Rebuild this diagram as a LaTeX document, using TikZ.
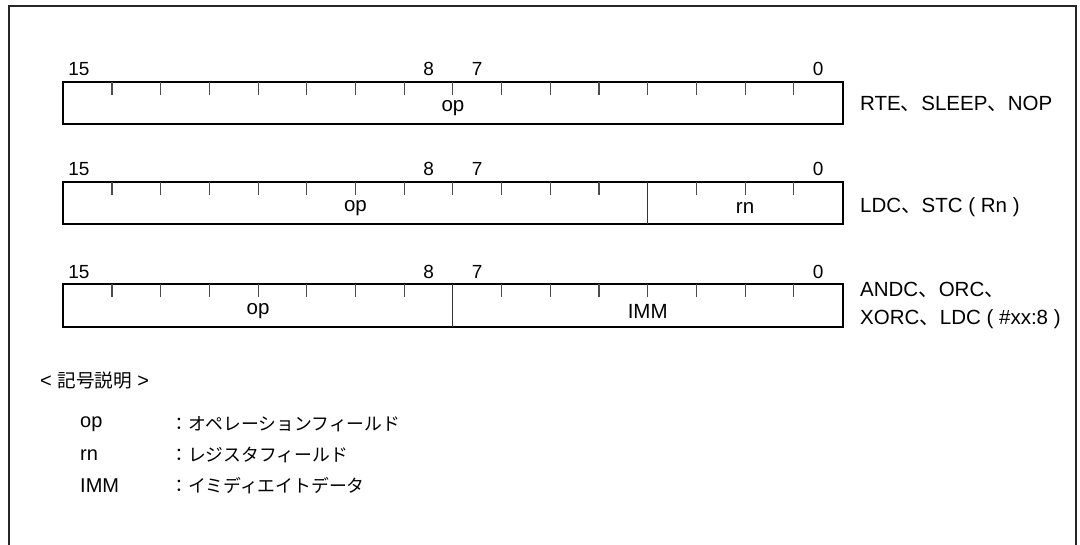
\documentclass[tikz,border=0pt]{standalone}
\usepackage{fontspec}
\setmainfont{Liberation Sans}
\newfontfamily\jp{Noto Sans CJK JP}
\begin{document}
\begin{tikzpicture}[x=1pt,y=-1pt,
  frame/.style={draw=black!85,line width=1.3pt},
  regbox/.style={draw=black,line width=2pt},
  tick/.style={draw=black!70,line width=1.1pt},
  divider/.style={draw=black!80,line width=1.1pt},
  bitlbl/.style={font=\fontsize{19}{21}\selectfont,inner sep=0pt},
  field/.style={font=\fontsize{20.5}{22}\selectfont,inner sep=0pt},
  rlbl/.style={font=\fontsize{20.5}{22}\selectfont,inner sep=0pt,anchor=west},
  legend/.style={font=\fontsize{20}{22}\selectfont,inner sep=0pt,anchor=west},
  legendjp/.style={font=\fontsize{17.8}{20}\selectfont\jp,inner sep=0pt,anchor=west}]
\useasboundingbox (0,0) rectangle (1080,545);
\def\xl{63.3}
\def\bw{48.7}
\def\xr{842.5}
% outer frame
\draw[frame] (9,545) -- (9,6) -- (1076,6) -- (1076,545);
% ---------- row 1 ----------
\draw[regbox] (\xl,82) rectangle (\xr,124);
\foreach \i in {1,...,15} \draw[tick] ({\xl+\i*\bw},82) -- ++(0,13);
\node[bitlbl] (r1b15) at (79,69) {15};
\node[bitlbl] (r1b8) at ({\xl+7.5*\bw},69) {8};
\node[bitlbl] (r1b7) at ({\xl+8.5*\bw},69) {7};
\node[bitlbl] (r1b0) at ({\xl+15.5*\bw},69) {0};
\node[field] (r1op) at ({\xl+8*\bw},108) {op};
\node[rlbl] (r1l) at (860,104) {RTE{\jp 、}SLEEP{\jp 、}NOP};
% ---------- row 2 ----------
\draw[regbox] (\xl,182) rectangle (\xr,224);
\foreach \i in {1,...,11,13,14,15} \draw[tick] ({\xl+\i*\bw},182) -- ++(0,13);
\draw[divider] ({\xl+12*\bw},182) -- ({\xl+12*\bw},224);
\node[bitlbl] (r2b15) at (79,169) {15};
\node[bitlbl] (r2b8) at ({\xl+7.5*\bw},169) {8};
\node[bitlbl] (r2b7) at ({\xl+8.5*\bw},169) {7};
\node[bitlbl] (r2b0) at ({\xl+15.5*\bw},169) {0};
\node[field] (r2op) at ({\xl+6*\bw},208) {op};
\node[field] (r2rn) at ({\xl+14*\bw},208) {rn};
\node[rlbl] (r2l) at (860,207) {LDC{\jp 、}STC ( Rn )};
% ---------- row 3 ----------
\draw[regbox] (\xl,284) rectangle (\xr,327);
\foreach \i in {1,...,7,9,10,...,15} \draw[tick] ({\xl+\i*\bw},284) -- ++(0,13);
\draw[divider] ({\xl+8*\bw},284) -- ({\xl+8*\bw},327);
\node[bitlbl] (r3b15) at (79,272) {15};
\node[bitlbl] (r3b8) at ({\xl+7.5*\bw},272) {8};
\node[bitlbl] (r3b7) at ({\xl+8.5*\bw},272) {7};
\node[bitlbl] (r3b0) at ({\xl+15.5*\bw},272) {0};
\node[field] (r3op) at ({\xl+4*\bw},311) {op};
\node[field] (r3imm) at ({\xl+12*\bw},311) {IMM};
\node[rlbl] (r3l1) at (860,290) {ANDC{\jp 、}ORC{\jp 、}};
\node[rlbl] (r3l2) at (860,319) {XORC{\jp 、}LDC ( \#xx:8 )};
% ---------- legend ----------
\node[legend] (lgt) at (40,380) {< {\jp\fontsize{18.6}{20}\selectfont 記号説明} >};
\node[legend] (lop) at (80,424) {op};
\node[legendjp] (lopd) at (170,424) {：オペレーションフィールド};
\node[legend] (lrn) at (80,455) {rn};
\node[legendjp] (lrnd) at (170,455) {：レジスタフィールド};
\node[legend] (limm) at (80,486) {IMM};
\node[legendjp] (limmd) at (170,486) {：イミディエイトデータ};
\end{tikzpicture}
\end{document}
